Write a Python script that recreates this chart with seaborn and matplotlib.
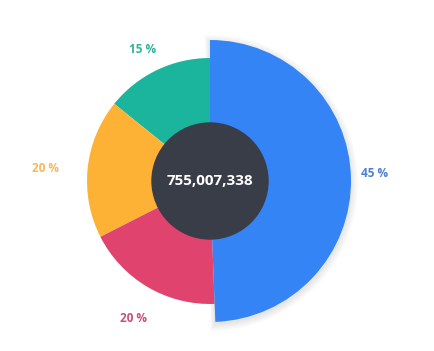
import matplotlib
matplotlib.use("Agg")
import numpy as np
import matplotlib.pyplot as plt
import matplotlib.patches as mpatches
import seaborn as sns

# --- Data ---
segments = ["Teal", "Orange", "Pink", "Blue"]
shares = [14.2, 18.3, 18.1, 49.4]          # visible slice sizes
labels = ["15 %", "20 %", "20 %", "45 %"]  # printed labels
total_text = "755,007,338"

slice_colors = ["#1bb59d", "#fdb236", "#e1436f", "#3584f5"]
label_colors = ["#2fb39c", "#f6b85c", "#c9507a", "#4d7fd1"]
label_dist = [1.2, 1.34, 1.28, 1.34]
center_color = "#383d48"

sns.set_theme(style="white")
plt.rcParams["font.family"] = ["Open Sans", "DejaVu Sans"]

fig = plt.figure(figsize=(4.34, 3.51), dpi=100)
ax = fig.add_axes([0, 0, 1, 1])

cx, cy, r = 210, 170, 123

wedges, texts = ax.pie(
    shares, colors=slice_colors, labels=labels, startangle=90,
    radius=r, center=(cx, cy), frame=True,
    wedgeprops=dict(linewidth=0),
    textprops=dict(fontsize=8.5, fontweight="bold"),
)

# pull the blue slice out to a bigger radius, with a soft shadow
blue = wedges[3]
big_r = 141
for i in range(5):
    sh = mpatches.Wedge((cx, cy - 2), big_r + 1 + i * 1.5, blue.theta1 - 0.5 - i * 0.4,
                        blue.theta2 + 0.5 + i * 0.4,
                        color="black", alpha=0.018, lw=0, zorder=0.5)
    ax.add_patch(sh)
blue.set_radius(big_r)
blue.set_zorder(2)

# place labels at the middle angle of each slice
for w, t, c, d in zip(wedges, texts, label_colors, label_dist):
    mid = np.deg2rad((w.theta1 + w.theta2) / 2 + 1.5)
    t.set_position((cx + r * d * np.cos(mid), cy + r * d * np.sin(mid)))
    t.set_color(c)
    t.set_ha("center")
    t.set_va("center")

ax.add_patch(plt.Circle((cx, cy), 58, color=center_color, zorder=3))
ax.text(cx, cy, total_text, ha="center", va="center", color="white",
        fontsize=11, fontweight="bold", zorder=4)

ax.set_xlim(0, 434)
ax.set_ylim(0, 351)
ax.set_aspect("equal")
ax.axis("off")

fig.savefig("out.png", dpi=100, facecolor="white")
